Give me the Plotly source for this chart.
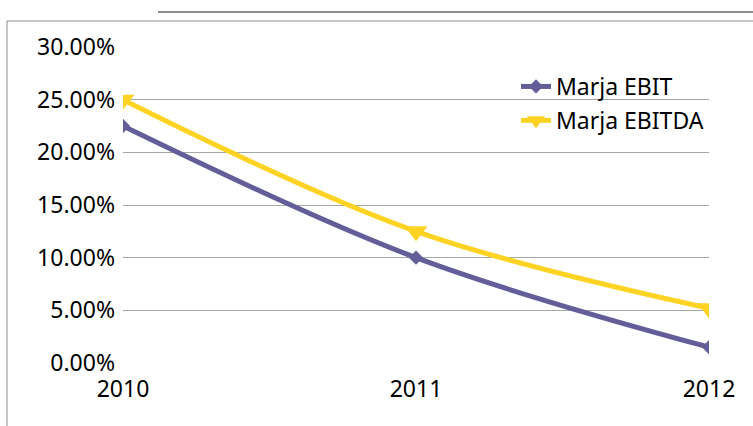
import plotly.graph_objects as go

years = [2010, 2011, 2012]
ebit = [0.225, 0.100, 0.015]
ebitda = [0.250, 0.125, 0.052]
y_ticks = [0, 0.05, 0.10, 0.15, 0.20, 0.25, 0.30]
y_labels = ["0.00%", "5.00%", "10.00%", "15.00%", "20.00%", "25.00%", "30.00%"]

W, H = 753, 426
L, R, T, B = 123, 44, 47, 63
pw, ph = W - L - R, H - T - B

def px(x):
    return (x - L) / pw

def py(y):
    return (H - B - y) / ph

fig = go.Figure()
fig.add_trace(go.Scatter(
    x=years, y=ebit, name="Marja EBIT", mode="lines+markers",
    line=dict(color="#635E99", width=5, shape="spline", smoothing=1.0),
    marker=dict(symbol="diamond", size=11, color="#635E99"),
    legendgroup="a",
))
fig.add_trace(go.Scatter(
    x=years, y=ebitda, name="Marja EBITDA", mode="lines+markers",
    line=dict(color="#FFD324", width=5, shape="spline", smoothing=1.0),
    marker=dict(symbol="triangle-down", size=20, color="#FFD324"),
    legendgroup="b",
))

fig.update_layout(
    width=W, height=H,
    margin=dict(l=L, r=R, t=T, b=B),
    paper_bgcolor="white", plot_bgcolor="white",
    font=dict(family="Noto Sans", size=23, color="black"),
    showlegend=True,
    legend=dict(
        x=px(516), y=py(65), xanchor="left", yanchor="top",
        bgcolor="rgba(0,0,0,0)", font=dict(size=23),
        tracegroupgap=1, itemwidth=30,
    ),
    xaxis=dict(
        range=[2010, 2012], tickvals=years, ticktext=[str(y) for y in years],
        showgrid=False, zeroline=False, showline=False, ticks="",
        tickfont=dict(size=23), ticklabelstandoff=10,
    ),
    yaxis=dict(
        range=[0, 0.30], tickvals=y_ticks, ticktext=y_labels,
        showgrid=True, gridcolor="#A6A6A6", gridwidth=1,
        zeroline=False, showline=False, ticks="", ticklen=0,
        tickfont=dict(size=23), ticklabelstandoff=7,
    ),
)

# chart frame lines
fig.add_shape(type="line", xref="paper", yref="paper",
              x0=px(7), x1=px(753), y0=py(21), y1=py(21),
              line=dict(color="#8E8E8E", width=1))
fig.add_shape(type="line", xref="paper", yref="paper",
              x0=px(7), x1=px(7), y0=py(21), y1=py(426),
              line=dict(color="#8E8E8E", width=1))
fig.add_shape(type="line", xref="paper", yref="paper",
              x0=px(158), x1=px(753), y0=py(12), y1=py(12),
              line=dict(color="#8C8C8C", width=2))

fig.write_html("out.html", config={"displayModeBar": False},
               post_script="document.body.style.margin='0';")
